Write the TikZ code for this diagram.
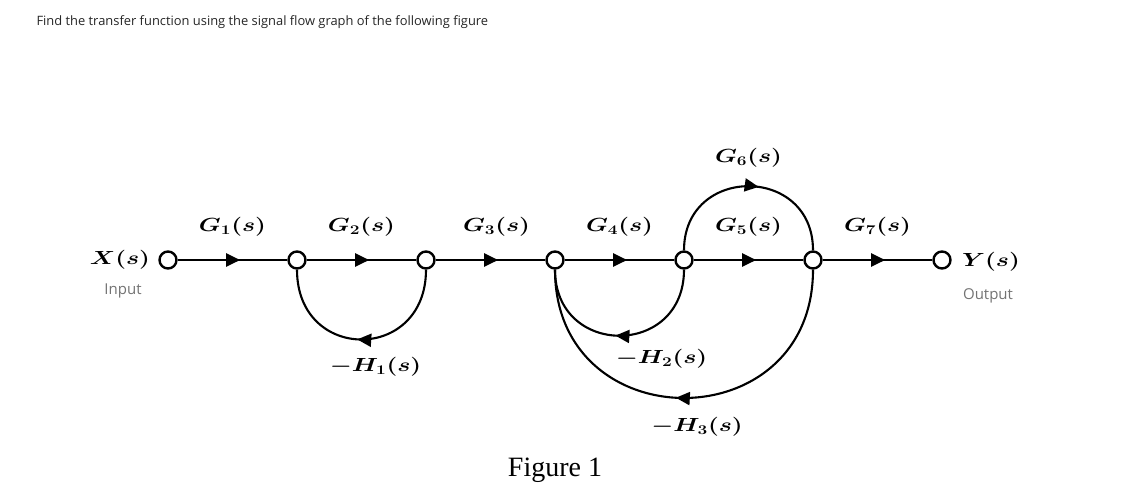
\documentclass[tikz,border=0pt]{standalone}
\usepackage{fix-cm}
\usepackage{amsmath}
\usepackage{bm}
\usepackage{graphicx}
\usepackage{fontspec}
\usetikzlibrary{arrows.meta}
\usetikzlibrary{decorations.markings}
\newfontfamily\opensans{Open Sans}
\newfontfamily\timesfont{Liberation Serif}
\newcommand{\gain}[1]{\scalebox{1.3}[1]{$\bm{#1}$}}
\tikzset{
  sfnode/.style={circle,draw,fill=white,line width=2.4pt,minimum size=17pt,inner sep=0pt},
  branch/.style={line width=2.1pt,postaction={decorate},
    decoration={markings,mark=at position #1 with {\arrow{Triangle[length=14pt,width=13pt]}}}},
  branch/.default=0.57,
  lbl/.style={inner sep=0pt,font=\fontsize{19}{22}\selectfont},
  note/.style={font=\opensans\fontsize{15}{17}\selectfont,text=black!55}
}

\begin{document}
\begin{tikzpicture}[x=1pt,y=1pt]
\useasboundingbox (0,0) rectangle (1148,-499);

\draw (33,-22) node[anchor=west,font=\opensans\fontsize{12.9}{15}\selectfont,text=black!85](title)
  {Find the transfer function using the signal flow graph of the following figure};

\draw (168,-260) node[sfnode](1) {};
\draw (297,-260) node[sfnode](2) {};
\draw (426,-260) node[sfnode](3) {};
\draw (555,-260) node[sfnode](4) {};
\draw (684,-260) node[sfnode](5) {};
\draw (813,-260) node[sfnode](6) {};
\draw (942,-260) node[sfnode](7) {};

\draw (120,-260) node[lbl](xs) {\gain{X(s)}};
\draw (991,-262) node[lbl](ys) {\gain{Y(s)}};
\draw (123,-291) node[note](input) {Input};
\draw (988,-296) node[note](output) {Output};

\draw (1) edge[branch] node[lbl,above=22.5pt]{\gain{G_1(s)}} (2);
\draw (2) edge[branch] node[lbl,above=22.5pt]{\gain{G_2(s)}} (3);
\draw (3) edge[branch] node[lbl,above=22.5pt,xshift=6pt]{\gain{G_3(s)}} (4);
\draw (4) edge[branch] node[lbl,above=22.5pt]{\gain{G_4(s)}} (5);
\draw (5) edge[branch] node[lbl,above=22.5pt]{\gain{G_5(s)}} (6);
\draw (6) edge[branch] node[lbl,above=22.5pt]{\gain{G_7(s)}} (7);

\draw (5) edge[branch=0.55,out=90,in=90,looseness=1.7]
  node[lbl,above=17.5pt]{\gain{G_6(s)}} (6);

\draw (3) edge[branch=0.52,out=-90,in=-90,looseness=1.85]
  node[lbl,below=16.5pt,xshift=14pt]{\gain{-H_1(s)}} (2);
\draw (5) edge[branch=0.52,out=-90,in=-90,looseness=1.75]
  node[lbl,below=12.5pt,xshift=42pt]{\gain{-H_2(s)}} (4);
\draw (6) edge[branch=0.52,out=-90,in=-90,looseness=1.7]
  node[lbl,below=18.5pt,xshift=13pt]{\gain{-H_3(s)}} (4);

\draw (555,-470) node[font=\timesfont\fontsize{28}{31}\selectfont](fig) {Figure 1};
\end{tikzpicture}
\end{document}
